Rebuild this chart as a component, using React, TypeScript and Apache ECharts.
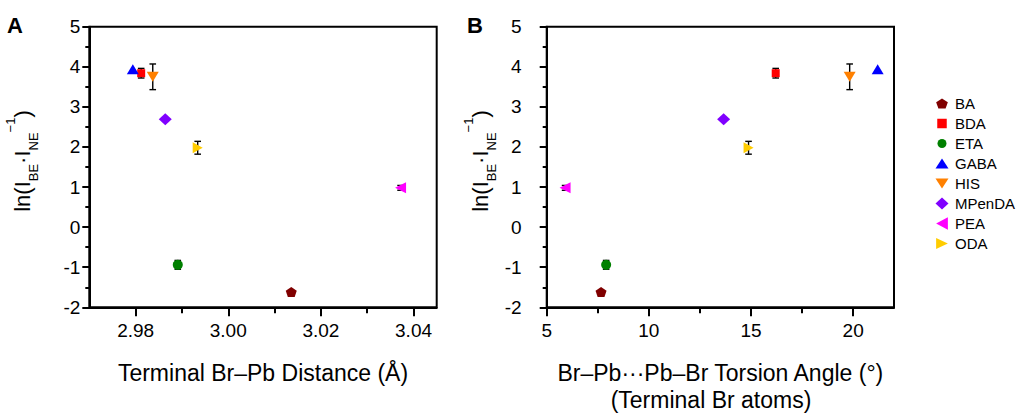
import React, { useEffect, useRef } from 'react';
import * as echarts from 'echarts';

// ---- data ----
const compounds = ['BA', 'BDA', 'ETA', 'GABA', 'HIS', 'MPenDA', 'PEA', 'ODA'];
const brPbDistance = [3.0136, 2.9812, 2.9891, 2.9794, 2.9837, 2.9864, 3.0372, 2.9934];
const torsionAngle = [7.66, 16.21, 7.91, 21.2, 19.83, 13.66, 5.9, 14.88];
const lnRatio = [-1.62, 3.84, -0.94, 3.94, 3.75, 2.69, 0.98, 1.98];
const lnRatioErr = [0, 0.12, 0.11, 0, 0.32, 0, 0.06, 0.16];
const distanceTicks = [2.98, 3.0, 3.02, 3.04];
const distanceAllTicks = [2.98, 2.99, 3.0, 3.01, 3.02, 3.03, 3.04];
const angleTicks = [5, 10, 15, 20];
const angleAllTicks = [5, 7.5, 10, 12.5, 15, 17.5, 20];

// ---- styles ----
const FONT = '"Liberation Sans", Arial, sans-serif';
const colors = ['#800000', '#ff0000', '#008000', '#0000ff', '#ff8000', '#8000ff', '#ff00ff', '#ffcc00'];
const symbols = [
  'path://M5,0L10,3.8L8.1,10L1.9,10L0,3.8Z',
  'rect',
  'circle',
  'triangle',
  'path://M0,0L10,0L5,10Z',
  'diamond',
  'path://M0,5L10,0L10,10Z',
  'path://M10,5L0,0L0,10Z',
];
const symbolSizes: any[] = [[11, 10], [8, 8], 10, [12, 10], [12, 10], [13, 12], [11, 11], [10, 11]];
const pad = (d: string) => 'path://M0,0 ' + d + ' M14,14';
const legendIcons = [
  pad('M7,2L12.85,5.8L10.6,12L3.4,12L1.15,5.8Z'),
  pad('M2.25,2.25L11.75,2.25L11.75,11.75L2.25,11.75Z'),
  pad('M2.5,7A4.5,4.5 0 1 1 11.5,7A4.5,4.5 0 1 1 2.5,7Z'),
  pad('M7,2L13.5,12L0.5,12Z'),
  pad('M0.5,2L13.5,2L7,12Z'),
  pad('M7,1L13.5,7L7,13L0.5,7Z'),
  pad('M1.15,7L12.85,0.75L12.85,13.25Z'),
  pad('M12.85,7L1.15,1.5L1.15,12.5Z'),
];

const axisLine = { show: true, onZero: false, lineStyle: { color: '#000', width: 2 } };
const tickStyle = { color: '#000', width: 2 };

function errorRender(params: any, api: any) {
  const x = api.value(0);
  const y = api.value(1);
  const e = api.value(2);
  if (!e) return null;
  const top = api.coord([x, y + e]);
  const bot = api.coord([x, y - e]);
  const w = 3.3;
  const st = { stroke: '#000', lineWidth: 1.4 };
  return {
    type: 'group',
    children: [
      { type: 'line', shape: { x1: top[0], y1: top[1], x2: bot[0], y2: bot[1] }, style: st },
      { type: 'line', shape: { x1: top[0] - w, y1: top[1], x2: top[0] + w, y2: top[1] }, style: st },
      { type: 'line', shape: { x1: bot[0] - w, y1: bot[1], x2: bot[0] + w, y2: bot[1] }, style: st },
    ],
  };
}

const yTitleText = '{m|ln(I}{sub|BE}{m|·I}{sub|NE}{sup|−1}{m|)}';
const yTitleRich = {
  m: { fontSize: 22, lineHeight: 36, fontFamily: FONT, fill: '#000' },
  sub: { fontSize: 13, lineHeight: 14, verticalAlign: 'bottom', fontFamily: FONT, fill: '#000' },
  sup: { fontSize: 13, lineHeight: 18, verticalAlign: 'top', fontFamily: FONT, fill: '#000' },
};

export default function App() {
  const ref = useRef<HTMLDivElement>(null);
  useEffect(() => {
    if (!ref.current) return;
    const chart = echarts.init(ref.current, null, { renderer: 'svg' });

    const grids = [
      { left: 89.3, top: 26.7, width: 347.4, height: 280.6 },
      { left: 546.7, top: 26.7, width: 347.3, height: 280.6 },
    ].map((g) => ({
      ...g,
      show: true,
      borderColor: '#000',
      borderWidth: 2,
      backgroundColor: 'transparent',
      outerBoundsMode: 'none',
      containLabel: false,
    }));

    // main axis: line, labels and all (short) ticks
    const mainX = (gridIndex: number, min: number, max: number, allTicks: number[], labels: number[], fmt: (v: number) => string, name: string) => ({
      type: 'value',
      gridIndex,
      position: 'bottom',
      min,
      max,
      axisLine,
      axisTick: { show: true, length: 6, lineStyle: tickStyle, customValues: allTicks },
      axisLabel: {
        color: '#000',
        fontSize: 19,
        fontFamily: FONT,
        margin: 14,
        customValues: labels,
        formatter: fmt,
      },
      splitLine: { show: false },
      name,
      nameLocation: 'middle',
      nameGap: 54,
      nameTextStyle: { color: '#000', fontSize: 23, fontFamily: FONT },
    });
    // helper axis: longer major ticks only
    const majorX = (gridIndex: number, min: number, max: number, ticks: number[]) => ({
      type: 'value',
      gridIndex,
      position: 'bottom',
      offset: 0,
      min,
      max,
      axisLine: { show: true, onZero: false, lineStyle: { color: '#000', width: 0, opacity: 0 } },
      axisTick: { show: true, length: 9, lineStyle: tickStyle, customValues: ticks },
      axisLabel: { show: false },
      splitLine: { show: false },
    });
    const yAx = (gridIndex: number, margin: number) => ({
      type: 'value',
      gridIndex,
      min: -2,
      max: 5,
      interval: 1,
      axisLine,
      axisTick: { show: true, length: 7, lineStyle: tickStyle },
      minorTick: { show: true, splitNumber: 2, length: 4, lineStyle: tickStyle },
      axisLabel: { color: '#000', fontSize: 19, fontFamily: FONT, margin },
      splitLine: { show: false },
      minorSplitLine: { show: false },
    });

    const series: any[] = [];
    compounds.forEach((name, i) => {
      const base = {
        type: 'scatter',
        name,
        symbol: symbols[i],
        symbolSize: symbolSizes[i],
        itemStyle: { color: colors[i], opacity: 1 },
        z: 3,
        silent: true,
      };
      series.push({ ...base, xAxisIndex: 0, yAxisIndex: 0, data: [[brPbDistance[i], lnRatio[i]]] });
      series.push({ ...base, xAxisIndex: 2, yAxisIndex: 1, data: [[torsionAngle[i], lnRatio[i]]] });
    });
    series.push({
      type: 'custom',
      name: 'errA',
      xAxisIndex: 0,
      yAxisIndex: 0,
      z: 2,
      silent: true,
      encode: { x: 0, y: 1 },
      data: compounds.map((_, i) => [brPbDistance[i], lnRatio[i], lnRatioErr[i]]),
      renderItem: errorRender,
    });
    series.push({
      type: 'custom',
      name: 'errB',
      xAxisIndex: 2,
      yAxisIndex: 1,
      z: 2,
      silent: true,
      encode: { x: 0, y: 1 },
      data: compounds.map((_, i) => [torsionAngle[i], lnRatio[i], lnRatioErr[i]]),
      renderItem: errorRender,
    });

    chart.setOption({
      animation: false,
      backgroundColor: '#fff',
      textStyle: { fontFamily: FONT },
      grid: grids,
      xAxis: [
        mainX(0, 2.97, 3.045, distanceAllTicks, distanceTicks, (v: number) => v.toFixed(2), 'Terminal Br–Pb Distance (Å)'),
        majorX(0, 2.97, 3.045, distanceTicks),
        mainX(1, 5, 22, angleAllTicks, angleTicks, (v: number) => String(v), 'Br–Pb···Pb–Br Torsion Angle (°)'),
        majorX(1, 5, 22, angleTicks),
      ],
      yAxis: [yAx(0, 9), yAx(1, 25)],
      legend: {
        orient: 'vertical',
        left: 930,
        top: 91,
        itemWidth: 14,
        itemHeight: 14,
        itemGap: 5,
        selectedMode: false,
        textStyle: { color: '#000', fontSize: 15, lineHeight: 15, fontFamily: FONT, padding: [0, 0, 0, 1] },
        data: compounds.map((n, i) => ({ name: n, icon: legendIcons[i] })),
      },
      graphic: [
        { type: 'text', x: 7, y: 14.5, style: { text: 'A', fontSize: 22, fontWeight: 'bold', fontFamily: FONT, fill: '#000', verticalAlign: 'top' } },
        { type: 'text', x: 467, y: 14.5, style: { text: 'B', fontSize: 22, fontWeight: 'bold', fontFamily: FONT, fill: '#000', verticalAlign: 'top' } },
        {
          type: 'text', x: 22, y: 161, rotation: Math.PI / 2,
          style: { text: yTitleText, rich: yTitleRich, align: 'center', verticalAlign: 'middle', fill: '#000' },
        },
        {
          type: 'text', x: 480, y: 161, rotation: Math.PI / 2,
          style: { text: yTitleText, rich: yTitleRich, align: 'center', verticalAlign: 'middle', fill: '#000' },
        },
        {
          type: 'text', x: 711, y: 388,
          style: { text: '(Terminal Br atoms)', fontSize: 23, fontFamily: FONT, fill: '#000', align: 'center', verticalAlign: 'top' },
        },
      ],
      series,
    });
    return () => chart.dispose();
  }, []);
  return (
    <div
      ref={ref}
      style={{ position: 'fixed', left: 0, top: 0, width: 1018, height: 416, background: '#fff' }}
    />
  );
}
